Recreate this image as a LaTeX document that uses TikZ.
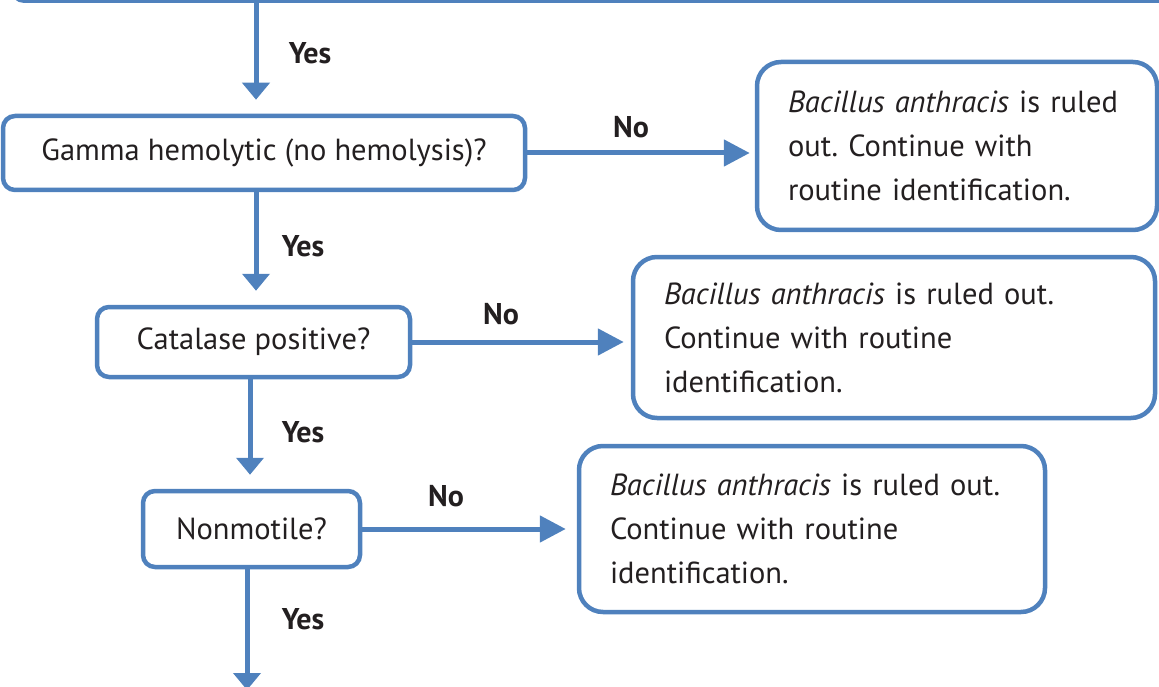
\documentclass[tikz,border=0pt]{standalone}
\usepackage{fontspec}
\setmainfont{PT Sans}
\usetikzlibrary{arrows.meta}
\definecolor{flowblue}{HTML}{4F81BD}
\definecolor{ink}{HTML}{231F20}
\frenchspacing
\begin{document}
\begin{tikzpicture}[x=1pt,y=-1pt]
	\tikzset{box/.style={draw=flowblue,line width=4.5pt,rounded corners=12pt,fill=white,text=ink,inner sep=0pt,font=\fontsize{30.5}{44}\selectfont},
		endbox/.style={box,rounded corners=24pt,align=left,inner xsep=31pt},
		yesarr/.style={draw=flowblue,line width=5pt,shorten >=14pt,-{Triangle[width=27pt,length=17pt]}},
		noarr/.style={draw=flowblue,line width=5pt,-{Triangle[width=26pt,length=26pt]}},
		lab/.style={text=ink,font=\fontsize{30}{36}\selectfont\bfseries}}
	\useasboundingbox (0,0) rectangle (1159,687);
	
	% question boxes
	\node[box,anchor=south west,minimum width=1400pt,minimum height=120pt] (top) at (10,3) {};
	\node[box,minimum width=522pt,minimum height=74pt] (gamma) at (264,153) {Gamma hemolytic (no hemolysis)?};
	\node[box,minimum width=313pt,minimum height=70pt] (catalase) at (253.5,342) {Catalase positive?};
	\node[box,minimum width=217pt,minimum height=76pt] (motile) at (251.5,529) {Nonmotile?};
	
	% ruled out boxes
	\node[endbox,text width=338pt,minimum height=168pt] (out1) at (957,146) {\textit{Bacillus anthracis} is ruled\\out. Continue with\\routine identification.};
	\node[endbox,text width=460pt,minimum height=161pt] (out2) at (894,337.5) {\textit{Bacillus anthracis} is ruled out.\\Continue with routine\\identification.};
	\node[endbox,text width=404pt,minimum height=166pt] (out3) at (812,529) {\textit{Bacillus anthracis} is ruled out.\\Continue with routine\\identification.};
	
	\coordinate (a1) at (256,0);
	\coordinate (a2) at (256,0);
	\coordinate (a3) at (250,0);
	\coordinate (a4) at (247,0);
	\coordinate (bottom) at (247,704);
	
	% yes arrows
	\draw[yesarr] (top.south -| a1) -- (gamma.north -| a1);
	\draw[yesarr] (gamma.south -| a2) -- (catalase.north -| a2);
	\draw[yesarr] (catalase.south -| a3) -- (motile.north -| a3);
	\draw[yesarr] (motile.south -| a4) -- (bottom);
	
	% no arrows
	\draw[noarr,shorten >=5pt] (gamma.east) -- (out1.west |- gamma.east);
	\draw[noarr,shorten >=7pt] (catalase.east) -- (out2.west |- catalase.east);
	\draw[noarr,shorten >=11pt] (motile.east) -- (out3.west |- motile.east);
	
	\node[lab] (yes1) at (310,53) {Yes};
	\node[lab] (yes2) at (303,246) {Yes};
	\node[lab] (yes3) at (303,432) {Yes};
	\node[lab] (yes4) at (303,619) {Yes};
	\node[lab] (no1) at (631,127) {No};
	\node[lab] (no2) at (501,314) {No};
	\node[lab] (no3) at (446,496) {No};
\end{tikzpicture}
\end{document}
